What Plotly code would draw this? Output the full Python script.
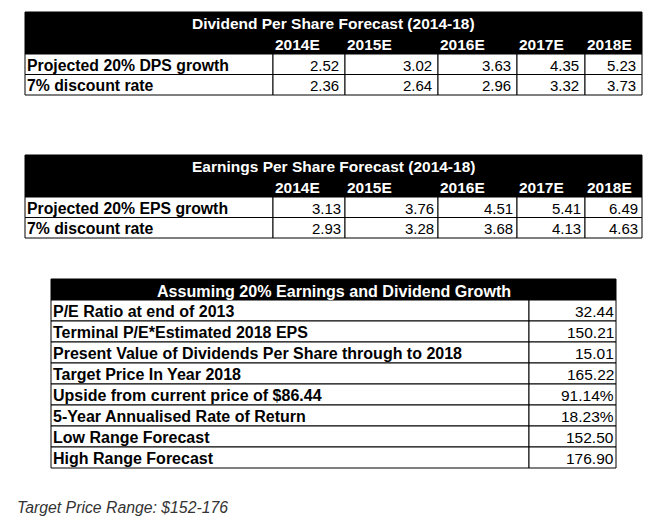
import plotly.graph_objects as go

# ---- data ----
years = ["2014E", "2015E", "2016E", "2017E", "2018E"]

dps_title = "Dividend Per Share Forecast (2014-18)"
dps_labels = ["Projected 20% DPS growth", "7% discount rate"]
dps_growth = [2.52, 3.02, 3.63, 4.35, 5.23]
dps_discount = [2.36, 2.64, 2.96, 3.32, 3.73]

eps_title = "Earnings Per Share Forecast (2014-18)"
eps_labels = ["Projected 20% EPS growth", "7% discount rate"]
eps_growth = [3.13, 3.76, 4.51, 5.41, 6.49]
eps_discount = [2.93, 3.28, 3.68, 4.13, 4.63]

summary_title = "Assuming 20% Earnings and Dividend Growth"
summary_labels = [
    "P/E Ratio at end of 2013",
    "Terminal P/E*Estimated 2018 EPS",
    "Present Value of Dividends Per Share through to 2018",
    "Target Price In Year 2018",
    "Upside from current price of $86.44",
    "5-Year Annualised Rate of Return",
    "Low Range Forecast",
    "High Range Forecast",
]
summary_values = [32.44, 150.21, 15.01, 165.22, 91.14, 18.23, 152.50, 176.90]
summary_units = ["", "", "", "", "%", "%", "", ""]

footnote = "Target Price Range: $152-176"

# ---- layout: axis units = page pixels (page body has an 8px margin) ----
W, H = 653, 521
BODY = 8
FONT = "Liberation Sans, Arial, sans-serif"
COLS = [25, 273, 345, 438, 517, 585, 642]   # forecast tables column edges
HEAD = 21
ROW = 20.5
SUM_COLS = [51, 529, 616]
SUM_ROW = 21

shapes = []
annotations = []


def text(x, y, s, anchor, color="black", size=15.5):
    annotations.append(dict(
        x=x, y=y, xref="x", yref="y", text=s, showarrow=False,
        xanchor=anchor, yanchor="middle", borderpad=0, borderwidth=0,
        font=dict(family=FONT, size=size, color=color)))


def box(x0, y0, x1, y1, fill="white", line="black"):
    shapes.append(dict(type="rect", xref="x", yref="y", x0=x0, y0=y0, x1=x1, y1=y1,
                       fillcolor=fill, line=dict(color=line, width=1), layer="below"))


def forecast_table(top, title, labels, rows, pad):
    left, right = COLS[0], COLS[-1]
    box(left, top, right, top + 2 * HEAD, fill="black", line="black")
    text((left + right) / 2, top + HEAD / 2 + 1, "<b>%s</b>" % title, "center", color="white")
    for i, yr in enumerate(years):
        text(COLS[i + 1] + 2, top + HEAD * 1.5 + 1, "<b>%s</b>" % yr, "left", color="white")
    y = top + 2 * HEAD
    for lab, vals in zip(labels, rows):
        box(COLS[0], y, COLS[1], y + ROW)
        text(COLS[0] + 2, y + ROW / 2 + 1, "<b>%s</b>" % lab, "left", size=15.8)
        for j, v in enumerate(vals):
            box(COLS[j + 1], y, COLS[j + 2], y + ROW)
            text(COLS[j + 2] - pad, y + ROW / 2 + 1, "%.2f" % v, "right", size=15)
        y += ROW


forecast_table(12, dps_title, dps_labels, [dps_growth, dps_discount], 6)
forecast_table(155, eps_title, eps_labels, [eps_growth, eps_discount], 4)

# summary table
top = 279
box(SUM_COLS[0], top, SUM_COLS[2], top + SUM_ROW, fill="black", line="black")
text((SUM_COLS[0] + SUM_COLS[2]) / 2, top + SUM_ROW / 2 + 1, "<b>%s</b>" % summary_title,
     "center", color="white", size=16.1)
y = top + SUM_ROW
for lab, v, u in zip(summary_labels, summary_values, summary_units):
    box(SUM_COLS[0], y, SUM_COLS[1], y + SUM_ROW)
    box(SUM_COLS[1], y, SUM_COLS[2], y + SUM_ROW)
    text(SUM_COLS[0] + 2, y + SUM_ROW / 2 + 1, "<b>%s</b>" % lab, "left", size=16)
    text(SUM_COLS[2] - 2, y + SUM_ROW / 2 + 1, "%.2f%s" % (v, u), "right", size=15.5)
    y += SUM_ROW

text(17, 507, "<i>%s</i>" % footnote, "left", color="#333333", size=15.8)

fig = go.Figure(go.Scatter(x=[], y=[], hoverinfo="skip", showlegend=False))
fig.update_layout(
    width=W - 2 * BODY, height=H - BODY,
    margin=dict(l=0, r=0, t=0, b=0),
    paper_bgcolor="white", plot_bgcolor="white",
    xaxis=dict(range=[BODY, W - BODY], visible=False, fixedrange=True),
    yaxis=dict(range=[H, BODY], visible=False, fixedrange=True),
    shapes=shapes, annotations=annotations,
    showlegend=False,
)
fig.write_html("out.html", config={"displayModeBar": False})
